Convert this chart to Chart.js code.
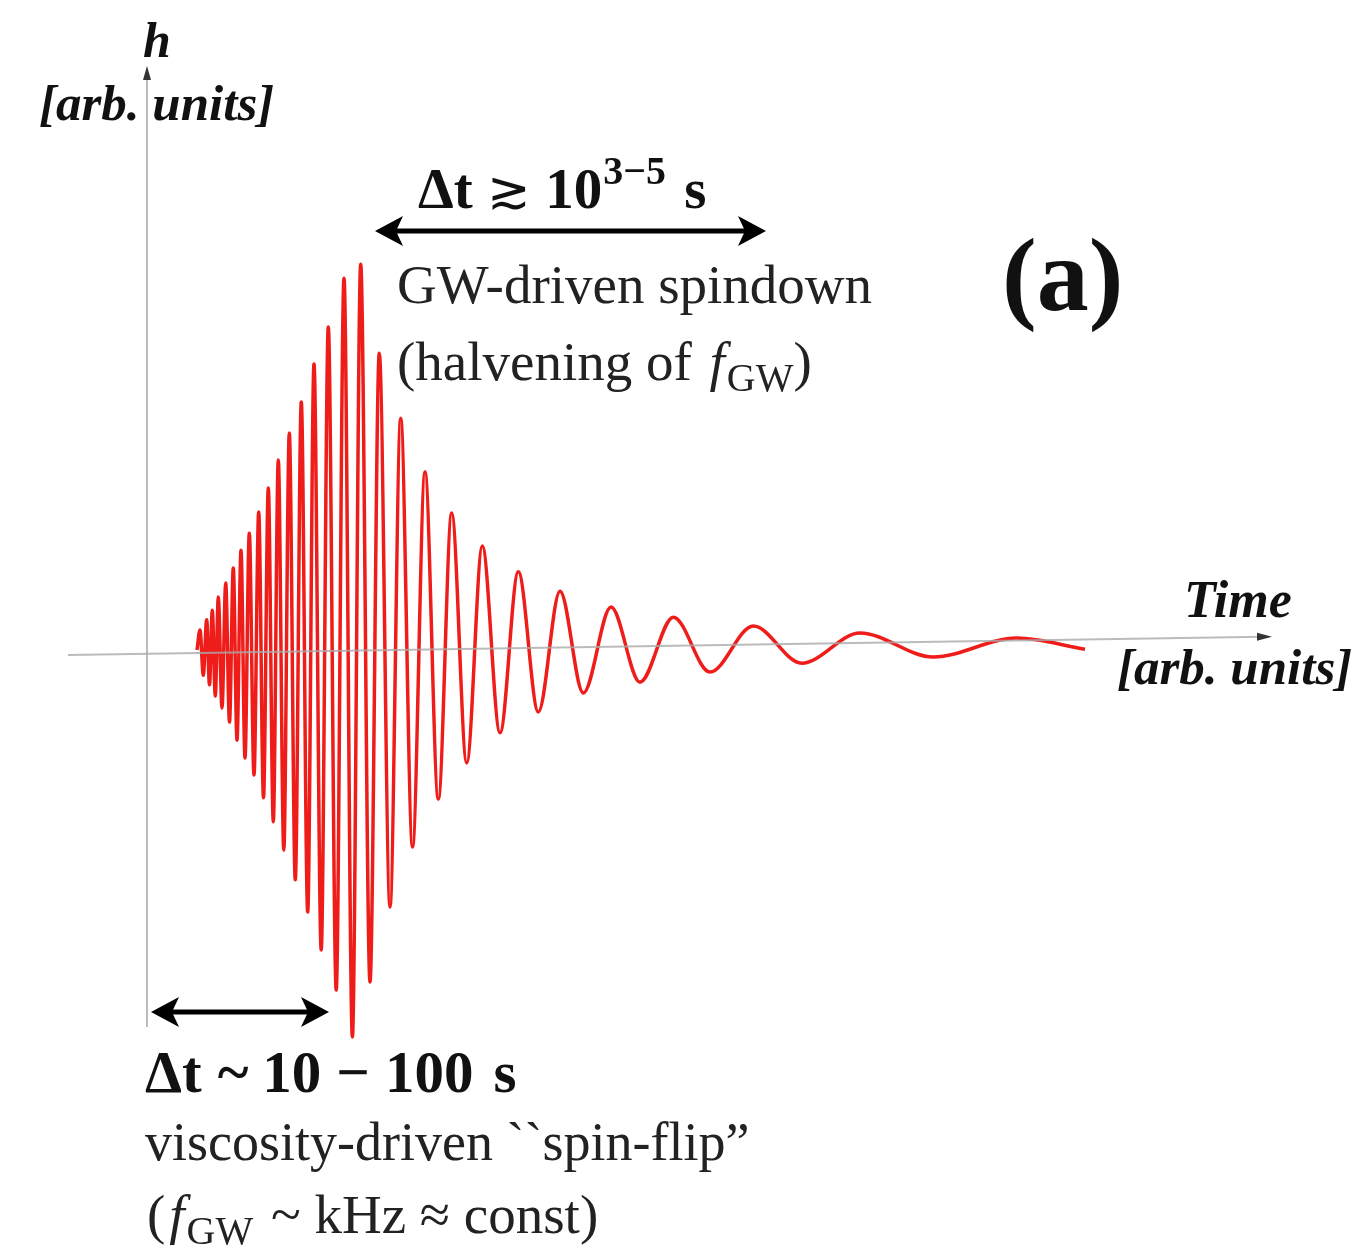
<!DOCTYPE html>
<html lang="en">
<head>
<meta charset="UTF-8" />
<title>Spin-flip GW signal</title>
<script src="https://cdn.jsdelivr.net/npm/chart.js"></script>
<style>
  html, body { margin: 0; padding: 0; background: #fff; }
  #wave { display: block; }
</style>
</head>
<body>
<canvas id="wave" width="1358" height="1254"></canvas>
<script>
// extrema of the strain curve (arb. units)
const timeVals = [0.50, 0.53, 0.563, 0.597, 0.625, 0.653, 0.683, 0.713, 0.75, 0.787,
  0.825, 0.863, 0.90, 0.94, 0.98, 1.023, 1.07, 1.117, 1.165, 1.213,
  1.263, 1.313, 1.368, 1.423, 1.483, 1.543, 1.607, 1.67, 1.742, 1.813,
  1.892, 1.97, 2.054, 2.137, 2.23, 2.323, 2.43, 2.537, 2.655, 2.78,
  2.913, 3.047, 3.197, 3.353, 3.53, 3.713, 3.913, 4.13, 4.363, 4.64,
  4.93, 5.263, 5.63, 6.063, 6.547, 7.13, 7.863, 8.697, 9.38];
const strainVals = [0, 5.2, -6.5, 7.8, -9.0, 10.3, -11.9, 13.7, -15.0, 17.3,
  -18.6, 21.2, -23.3, 25.8, -27.9, 30.2, -32.3, 35.7, -38.2, 41.9,
  -44.4, 49.1, -51.7, 56.1, -59.4, 64.1, -67.7, 73.9, -77.5, 83.5,
  -87.9, 96.1, -100.0, 99.7, -85.8, 76.7, -66.4, 59.9, -50.9, 46.0,
  -38.5, 35.4, -29.2, 26.9, -21.4, 20.2, -16.0, 15.2, -11.1, 11.1,
  -8.3, 8.5, -5.7, 6.2, -3.4, 4.4, -1.8, 3.1, 0.2];

// axis extents
const xRange = [-1.47, 12.11];
const yRange = [-156.1, 168.0];

const points = timeVals.map((t, i) => ({ x: t, y: strainVals[i] }));

const SERIF = '"Liberation Serif", "DejaVu Serif", serif';

// draws a run of text pieces one after another (dy shifts sub/superscripts)
function richText(ctx, x, y, parts) {
  let cx = x;
  parts.forEach(p => {
    ctx.font = p.font;
    cx += p.gap || 0;
    ctx.fillText(p.t, cx, y + (p.dy || 0));
    cx += ctx.measureText(p.t).width;
  });
}

function arrowHead(ctx, tipX, tipY, dir, len, half) {
  ctx.beginPath();
  ctx.moveTo(tipX, tipY);
  ctx.lineTo(tipX - dir * len, tipY - half);
  ctx.lineTo(tipX - dir * len * 0.75, tipY);
  ctx.lineTo(tipX - dir * len, tipY + half);
  ctx.closePath();
  ctx.fill();
}

function doubleArrow(ctx, x1, x2, y) {
  ctx.lineWidth = 5;
  ctx.beginPath();
  ctx.moveTo(x1 + 15, y);
  ctx.lineTo(x2 - 15, y);
  ctx.stroke();
  arrowHead(ctx, x1, y, -1, 28, 15);
  arrowHead(ctx, x2, y, 1, 28, 15);
}

const decor = {
  id: 'decor',
  afterDatasetsDraw(chart) {
    const { ctx } = chart;
    const sx = chart.scales.x, sy = chart.scales.y;
    ctx.save();

    // axes
    ctx.strokeStyle = 'rgba(170,170,170,0.8)';
    ctx.fillStyle = '#333';
    ctx.lineWidth = 2;
    const x0 = sx.getPixelForValue(0);
    ctx.beginPath();
    ctx.moveTo(x0, sy.getPixelForValue(-97.4));
    ctx.lineTo(x0, sy.getPixelForValue(148));
    ctx.stroke();
    const hxL = sx.getPixelForValue(-0.79), hyL = sy.getPixelForValue(-1.3);
    const hxR = sx.getPixelForValue(11.25), hyR = sy.getPixelForValue(3.4);
    ctx.beginPath();
    ctx.moveTo(hxL, hyL);
    ctx.lineTo(hxR - 8, hyR);
    ctx.stroke();
    // small arrow tips
    ctx.beginPath();
    ctx.moveTo(x0, 66); ctx.lineTo(x0 - 4, 80); ctx.lineTo(x0 + 4, 80); ctx.closePath();
    ctx.fill();
    ctx.beginPath();
    ctx.moveTo(hxR, hyR); ctx.lineTo(hxR - 15, hyR - 4); ctx.lineTo(hxR - 15, hyR + 4); ctx.closePath();
    ctx.fill();

    // interval arrows
    ctx.fillStyle = '#000';
    ctx.strokeStyle = '#000';
    doubleArrow(ctx, 375, 766, 231);
    doubleArrow(ctx, 151, 329, 1012);

    // axis labels
    ctx.fillStyle = '#111';
    ctx.textBaseline = 'alphabetic';
    const bi = 'italic bold 51px ' + SERIF;
    richText(ctx, 143, 57, [{ t: 'h', font: 'italic bold 50px ' + SERIF }]);
    richText(ctx, 39, 120, [{ t: '[arb. units]', font: bi }]);
    richText(ctx, 1184, 617, [{ t: 'Time', font: 'italic bold 52px ' + SERIF }]);
    richText(ctx, 1117, 684, [{ t: '[arb. units]', font: bi }]);

    // annotations
    const b = 'bold 57px ' + SERIF;
    const b2 = 'bold 59px ' + SERIF;
    const r = '55px ' + SERIF;
    const it = 'italic 55px ' + SERIF;
    const sub = '40px ' + SERIF;
    richText(ctx, 418, 208, [
      { t: 'Δt ', font: b },
      { t: '≳', font: '52px ' + SERIF },
      { t: ' 10', font: b },
      { t: '3−5', font: 'bold 40px ' + SERIF, dy: -24, gap: 1 },
      { t: ' s', font: b, gap: 4 }
    ]);
    ctx.fillStyle = '#222';
    richText(ctx, 397, 303, [{ t: 'GW-driven spindown', font: r }]);
    richText(ctx, 397, 380, [
      { t: '(halvening of ', font: r },
      { t: 'f', font: it, gap: 4 },
      { t: 'GW', font: sub, dy: 11, gap: 2 },
      { t: ')', font: r }
    ]);
    ctx.fillStyle = '#111';
    richText(ctx, 1002, 310, [{ t: '(a)', font: 'bold 104px ' + SERIF }]);

    richText(ctx, 145, 1092, [
      { t: 'Δt', font: b2 },
      { t: '~', font: b2, gap: 16 },
      { t: '10', font: b2, gap: 14 },
      { t: '−', font: b2, gap: 15 },
      { t: '100', font: b2, gap: 15 },
      { t: 's', font: b2, gap: 20 }
    ]);
    ctx.fillStyle = '#222';
    richText(ctx, 145, 1160, [{ t: 'viscosity-driven ``spin-flip”', font: '54px ' + SERIF }]);
    richText(ctx, 145, 1233, [
      { t: '(', font: r, gap: 2 },
      { t: 'f', font: it, gap: 4 },
      { t: 'GW', font: sub, dy: 11, gap: 2 },
      { t: ' ~ kHz ≈ const)', font: r, gap: 4 }
    ]);
    ctx.restore();
  }
};

new Chart(document.getElementById('wave'), {
  type: 'line',
  data: {
    datasets: [{
      data: points,
      borderColor: '#ef1d1a',
      borderWidth: 3.5,
      pointRadius: 0,
      cubicInterpolationMode: 'monotone',
      fill: false
    }]
  },
  options: {
    responsive: false,
    animation: false,
    devicePixelRatio: 1,
    layout: { padding: 0, autoPadding: false },
    plugins: { legend: { display: false }, tooltip: { enabled: false } },
    scales: {
      x: { type: 'linear', min: xRange[0], max: xRange[1], display: false },
      y: { type: 'linear', min: yRange[0], max: yRange[1], display: false }
    }
  },
  plugins: [decor]
});
</script>
</body>
</html>
